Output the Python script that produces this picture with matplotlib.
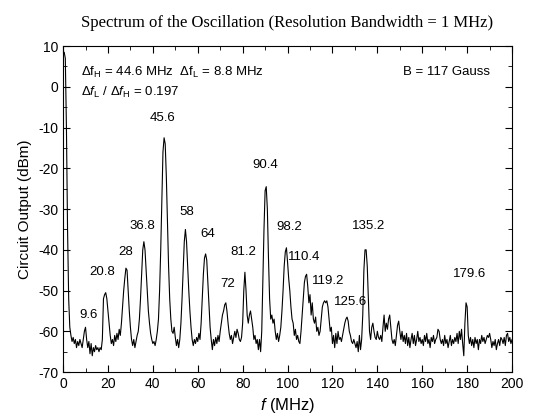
import numpy as np
import matplotlib
matplotlib.use("Agg")
import matplotlib.pyplot as plt
from matplotlib.ticker import MultipleLocator

plt.rcParams['font.family'] = ['Liberation Sans', 'DejaVu Sans']
plt.rcParams['mathtext.fontset'] = 'custom'
plt.rcParams['mathtext.rm'] = 'Liberation Sans'
plt.rcParams['mathtext.it'] = 'Liberation Sans:italic'
plt.rcParams['axes.unicode_minus'] = False

# spectrum trace, every 0.5 MHz (0 ... 200 MHz)
f_step = 0.5
level = [
    8, 8.5, 7, -10, -35, -52, -59, -61, -62.5, -61.5, -63, -62, -64, -62.5, -63.5, -62, -63, -64, -62, -60,
    -59, -62, -64, -62.5, -65.5, -63, -66, -64, -65, -63.5, -64.5, -64, -65, -64, -64.5, -62, -52, -51, -50.5, -52,
    -55, -58, -61, -63, -62, -63.5, -61, -62.5, -60.5, -62, -59.5, -61, -58, -54, -50, -47, -44.5, -45, -50, -55,
    -59, -62, -63.5, -62, -64, -62.5, -61, -60, -57, -52, -46, -40, -38, -40, -45, -50, -55, -58, -60.5, -62,
    -63, -62.5, -63.5, -62, -60, -57, -50, -40, -28, -16, -12.5, -14, -22, -33, -44, -52, -57, -60, -60.5, -59,
    -61.5, -63.5, -62, -64, -62, -58, -52, -45, -38, -35, -38, -44, -50, -55, -59, -62, -63.5, -62, -63, -61.5,
    -62.5, -60.5, -62, -58, -52, -46, -42, -41, -42.5, -48, -54, -59, -62, -64.5, -62, -63.5, -61.5, -63, -61, -62.5,
    -60, -58, -56, -55, -53.5, -53, -55, -58, -60.5, -62, -61, -63, -61.5, -60, -61.5, -59.5, -60.5, -62, -62.5, -61.5,
    -58, -50, -45.5, -50, -56, -58, -56, -55, -57, -59, -62, -61, -63, -62, -64.5, -62, -65, -60, -48, -35,
    -25.5, -24.5, -30, -42, -52, -57, -56, -58, -57, -60, -62, -60.5, -62.5, -61, -59, -55, -50, -44, -40.5, -39.5,
    -43, -47, -50, -54, -57, -58, -61, -59.5, -62, -61, -62.5, -63, -60, -56, -52, -48, -46.5, -46, -49, -53,
    -51, -56, -53, -57, -58, -56.5, -60, -59, -61, -60, -57, -54, -53, -52.5, -53, -52.5, -54, -57, -60, -59,
    -63, -61, -64, -60.5, -63, -60, -62, -61.5, -62.5, -61, -59.5, -58, -57, -56.5, -57.5, -60, -61, -62.5, -63, -62,
    -63, -64, -62.5, -65, -61, -64.5, -62, -56, -45, -40, -40, -44, -52, -60, -62, -59, -58, -60, -61.5, -62,
    -60, -61.5, -62, -61, -62.5, -59, -56, -60, -58, -59.5, -57, -56, -59, -62, -63, -62, -63.5, -61, -58.5, -57.5,
    -60, -62, -60, -62.5, -61, -63, -60.5, -63.5, -61.5, -64, -62, -60.5, -63, -61, -63.5, -62, -60, -62.5, -61.5, -63,
    -62, -63.5, -61, -62.5, -60.5, -63, -62, -64, -61.5, -62.5, -61, -63, -62, -61.5, -59.5, -60, -62, -63, -62, -63.5,
    -61, -63, -62, -64, -62.5, -61, -63.5, -62, -63, -61.5, -62.5, -60.5, -63, -60, -62, -59.5, -63, -66, -58, -53,
    -54, -61, -63, -61.5, -63.5, -62, -64, -61.5, -63, -62, -64.5, -62, -63, -61, -62.5, -61.5, -63, -62, -61, -61.5,
    -60.5, -62, -64, -62.5, -63.5, -62, -64.5, -63, -62, -63.5, -61.5, -62, -63, -61.5, -63.5, -61, -60.5, -62.5, -61.5, -63,
    -62,
]
freq = np.arange(len(level)) * f_step

# peak labels and where they sit (MHz, dBm)
peak_text = ["9.6", "20.8", "28", "36.8", "45.6", "58", "64", "72", "81.2",
             "90.4", "98.2", "110.4", "119.2", "125.6", "135.2", "179.6"]
peak_x = [11.5, 17.4, 27.9, 35.5, 44.5, 55.0, 64.6, 73.4, 80.5,
          89.9, 100.7, 107.4, 118.2, 128.1, 135.9, 181.3]
peak_y = [-56, -45.5, -40.6, -34.2, -7.6, -30.7, -36.2, -48.4, -40.6,
          -19.2, -34.4, -41.7, -47.6, -52.8, -34.2, -46]

fig = plt.figure(figsize=(5.39, 4.19), dpi=100)
ax = fig.add_axes([0.117, 0.112, 0.833, 0.778])
ax.plot(freq, level, c='k', lw=0.8)

ax.set_xlim(0, 200)
ax.set_ylim(-70, 10)
ax.xaxis.set_major_locator(MultipleLocator(20))
ax.xaxis.set_minor_locator(MultipleLocator(10))
ax.yaxis.set_major_locator(MultipleLocator(10))
ax.yaxis.set_minor_locator(MultipleLocator(5))
ax.tick_params(which='both', direction='in', top=True, right=True, labelsize=10)
ax.tick_params(which='major', length=5)
ax.tick_params(which='minor', length=3)

for t, x, y in zip(peak_text, peak_x, peak_y):
    ax.text(x, y, t, ha='center', va='center', fontsize=9.5)

ax.text(8.2, 3.6, r'$\Delta\mathrm{f}_\mathrm{H}$ = 44.6 MHz  $\Delta\mathrm{f}_\mathrm{L}$ = 8.8 MHz',
        ha='left', va='center', fontsize=9.5)
ax.text(8.2, -1.5, r'$\Delta f_\mathrm{L}$ / $\Delta f_\mathrm{H}$ = 0.197',
        ha='left', va='center', fontsize=9.5)
ax.text(190.3, 3.6, 'B = 117 Gauss', ha='right', va='center', fontsize=9.5)

ax.set_title('Spectrum of the Oscillation (Resolution Bandwidth = 1 MHz)',
             family='Liberation Serif', fontsize=12, pad=14)
ax.set_ylabel('Circuit Output (dBm)', fontsize=11)
ax.set_xlabel(r'$f$ (MHz)', fontsize=12)

plt.savefig("out.png", dpi=100)
